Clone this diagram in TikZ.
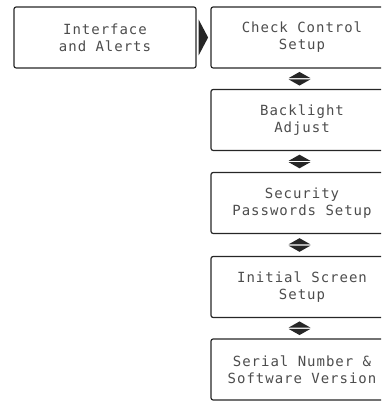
\documentclass[tikz,border=0pt]{standalone}
\usepackage{fontspec}
\newfontfamily\lcdfont[LetterSpace=7]{DejaVu Sans Mono}
\usetikzlibrary{calc}
\tikzset{
  menubox/.style={draw=black!85, line width=1.2pt, rounded corners=2.2pt,
    minimum width=182pt, minimum height=61pt, inner sep=0pt,
    align=center, font=\lcdfont\fontsize{14}{17}\selectfont, text=black!70},
  tri/.style={fill=black!85, draw=none}
}
\begin{document}
\begin{tikzpicture}[x=1pt,y=1pt]
  \useasboundingbox (0,0) rectangle (381,403);
  \clip (0,0) rectangle (381,403);
  \node[menubox] (L)  at (105,365.5) {Interface\\and Alerts};
  \node[menubox] (R1) at (302,365.5) {Check Control\\Setup};
  \node[menubox] (R2) at (302,283) {Backlight\\Adjust};
  \node[menubox] (R3) at (302,200) {Security\\Passwords Setup};
  \node[menubox] (R4) at (302,116) {Initial Screen\\Setup};
  \node[menubox] (R5) at (302,33.5) {Serial Number \&\\Software Version};
  % right-pointing triangle between L and R1
  \fill[tri] ([xshift=2pt,yshift=18pt]L.east) -- ([xshift=2pt,yshift=-18pt]L.east)
    -- ([xshift=11.5pt]L.east) -- cycle;
  % double arrows between right boxes
  \foreach \a/\b [count=\i] in {R1/R2,R2/R3,R3/R4,R4/R5}{
    \coordinate (m\i) at ($(\a.south)!0.5!(\b.north)+(-2.5,0)$);
    \fill[tri] ($(m\i)+(-11,0.6)$) -- ($(m\i)+(11,0.6)$) -- ($(m\i)+(0,6.8)$) -- cycle;
    \fill[tri] ($(m\i)+(-11,-0.6)$) -- ($(m\i)+(11,-0.6)$) -- ($(m\i)+(0,-6.8)$) -- cycle;
  }
\end{tikzpicture}
\end{document}
